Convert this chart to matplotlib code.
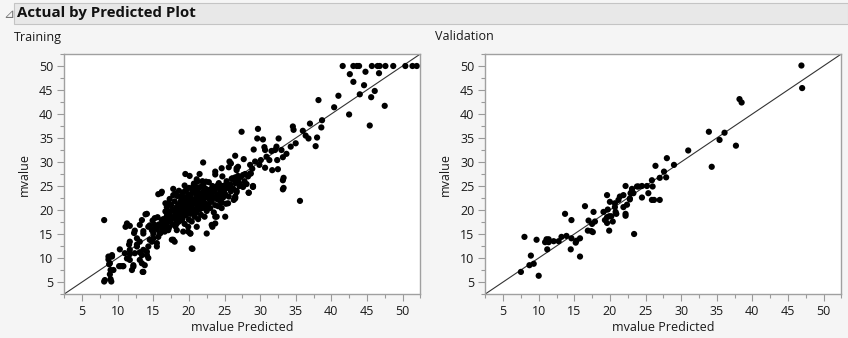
import matplotlib
matplotlib.use("Agg")
import matplotlib.pyplot as plt
from matplotlib.patches import Rectangle
from matplotlib.ticker import MultipleLocator

plt.rcParams['font.family'] = ['Open Sans', 'DejaVu Sans']

# Training rows: (predicted, actual)
train_outer = [
    # top right, capped values at 50
    (41.6, 50.0), (43.1, 50.0), (43.6, 50.0), (43.9, 50.0), (45.7, 50.0), (46.5, 50.0),
    (46.8, 50.0), (47.6, 50.0), (48.7, 50.0), (50.4, 50.0), (51.4, 50.0), (52.0, 50.0),
    (42.6, 48.3), (43.1, 46.7), (44.8, 48.8), (46.7, 48.5), (44.6, 46.0), (46.1, 44.8),
    (44.0, 44.1), (45.6, 43.5), (47.5, 41.7), (42.5, 39.9), (45.4, 37.6), (41.0, 43.8),
    (38.2, 42.9), (40.4, 41.4), (38.7, 38.7), (37.0, 38.0), (38.6, 37.2), (36.0, 36.5),
    (34.6, 37.4), (34.7, 36.7), (36.4, 35.5), (36.8, 34.9), (38.0, 35.1), (37.8, 33.3),
    (35.0, 33.9), (34.3, 33.2), (33.7, 31.7), (33.2, 31.0), (32.6, 34.9), (30.4, 34.7),
    (29.6, 34.9), (29.7, 36.9), (27.4, 36.3), (32.3, 33.2), (32.1, 32.5), (31.6, 32.3),
    (30.7, 32.5), (30.6, 33.1), (29.1, 32.6), (30.9, 31.1), (32.4, 30.4), (33.0, 32.5),
    (31.3, 30.4), (30.1, 30.4), (29.3, 30.1), (28.6, 29.4), (27.7, 30.6), (26.5, 31.3),
    (29.9, 29.4), (30.7, 28.8), (31.7, 28.3), (32.5, 28.5), (28.9, 28.6), (28.7, 27.6),
    (27.9, 27.5), (26.9, 29.0), (26.7, 28.3), (26.9, 27.1), (33.3, 26.7), (29.0, 24.9),
    (33.3, 24.6), (27.1, 25.0), (26.5, 26.1), (26.7, 23.7), (26.5, 22.6), (28.4, 23.6),
    (29.0, 24.8), (33.2, 24.3), (33.2, 26.2), (35.6, 21.9), (22.0, 29.9), (25.7, 30.1),
    (19.5, 27.5), (20.1, 27.1), (21.5, 27.5), (21.1, 26.4), (23.7, 28.0), (23.7, 27.4),
    (24.6, 28.7), (24.7, 27.0), (25.6, 28.9), (25.9, 29.7), (26.7, 28.7), (26.1, 26.6),
    (26.5, 26.8), (20.9, 24.9), (21.8, 24.9), (24.1, 25.2), (25.1, 25.2), (27.6, 27.3),
    (28.6, 27.6), (16.2, 23.8), (15.7, 23.3), (17.8, 23.1), (20.6, 24.9), (21.3, 24.4),
    (23.9, 24.9), (25.5, 25.2), (27.2, 25.2), (17.2, 21.4), (26.5, 22.4), (23.9, 18.6),
    (22.5, 15.1), (23.3, 16.5), (20.2, 15.1), (19.2, 15.5), (20.4, 12.0), (15.2, 18.3),
    (18.0, 13.4), (17.6, 13.8),
    # lower left
    (8.1, 17.9), (11.3, 17.2), (11.7, 16.7), (14.1, 19.2), (13.4, 17.9), (13.1, 16.9),
    (12.4, 15.7), (13.6, 15.1), (10.3, 11.8), (9.2, 10.6), (8.7, 9.7), (8.9, 8.9),
    (9.0, 7.5), (8.2, 5.4), (9.0, 5.6), (8.9, 6.6), (10.7, 8.3), (10.4, 8.3),
    (11.7, 9.6), (12.0, 7.5), (12.2, 8.2), (13.4, 8.9), (13.6, 7.1), (11.7, 11.7),
    (11.0, 11.0), (12.7, 12.4), (13.4, 10.6), (13.6, 11.7), (14.5, 13.8), (15.0, 14.1),
    (15.5, 13.1), (15.9, 15.1), (16.6, 15.5), (16.9, 16.2), (17.8, 13.8), (18.1, 17.1),
    (16.4, 16.9), (16.2, 17.9), (17.1, 19.6), (17.1, 21.4), (18.5, 19.3), (19.0, 17.9),
    (19.9, 15.5), (19.9, 16.5), (14.1, 10.6), (14.3, 10.0), (8.7, 10.3), (9.2, 10.3),
    (8.8, 8.7), (9.4, 7.5), (8.1, 5.1), (9.1, 5.1), (10.2, 8.3), (10.8, 8.3),
    (11.3, 9.9), (11.7, 10.8), (11.7, 13.4), (11.6, 12.8), (11.1, 16.5), (12.2, 8.5),
    (12.3, 15.2), (12.7, 14.1), (13.1, 13.4), (12.7, 12.8), (12.4, 11.0), (13.1, 11.2),
    (13.1, 9.6), (13.8, 8.5), (13.5, 7.1), (13.9, 19.1), (13.6, 15.6), (14.3, 16.5),
    (14.3, 12.4), (14.1, 11.3), (14.8, 13.4), (15.0, 15.1), (15.2, 16.2), (15.7, 14.4),
    (15.5, 12.4), (16.1, 23.5), (16.7, 21.4), (16.9, 17.2), (16.4, 15.8), (17.1, 15.8),
    (18.3, 15.8), (18.3, 17.2), (18.5, 18.6), (19.5, 19.3), (20.2, 15.1), (20.5, 11.9),
    (21.1, 16.5), (23.2, 16.9), (23.7, 18.6), (23.7, 17.2), (24.6, 20.4), (25.1, 18.6),
    (25.5, 21.4), (26.5, 22.8), (25.3, 25.2), (24.6, 23.5), (21.8, 23.5), (28.4, 23.6),
    (29.0, 25.0),
]

# Dense middle of the training cloud
train_core = [
    (15.5, 16.0), (15.8, 17.0), (16.0, 15.2), (16.2, 16.4), (16.4, 18.1), (16.6, 17.0),
    (16.8, 15.9), (16.9, 18.8), (17.0, 17.5), (17.2, 16.3), (17.3, 19.0), (17.5, 18.0),
    (17.6, 20.0), (17.7, 17.0), (17.9, 18.6), (18.0, 19.6), (18.1, 16.6), (18.2, 20.5),
    (18.3, 18.0), (18.4, 19.0), (18.5, 21.2), (18.6, 17.6), (18.7, 20.0), (18.8, 18.7),
    (18.9, 22.0), (19.0, 19.4), (19.0, 20.7), (19.1, 18.2), (19.2, 21.5), (19.3, 19.9),
    (19.4, 17.1), (19.5, 20.3), (19.5, 22.6), (19.6, 18.9), (19.7, 21.0), (19.8, 19.6),
    (19.9, 23.3), (20.0, 20.4), (20.0, 18.0), (20.1, 21.8), (20.2, 19.2), (20.3, 22.5),
    (20.3, 20.9), (20.4, 17.6), (20.5, 23.8), (20.5, 19.8), (20.6, 21.3), (20.7, 22.1),
    (20.8, 20.0), (20.8, 18.6), (20.9, 24.3), (21.0, 21.6), (21.0, 19.4), (21.1, 22.8),
    (21.2, 20.6), (21.3, 23.5), (21.3, 18.1), (21.4, 21.9), (21.5, 20.1), (21.5, 24.7),
    (21.6, 22.4), (21.7, 19.0), (21.8, 23.1), (21.8, 21.2), (21.9, 20.4), (22.0, 22.0),
    (22.0, 25.3), (22.1, 23.9), (22.2, 18.6), (22.2, 21.5), (22.3, 24.5), (22.4, 20.7),
    (22.5, 22.7), (22.5, 19.8), (22.6, 23.4), (22.7, 21.2), (22.8, 25.8), (22.9, 22.2),
    (23.0, 24.0), (23.0, 20.4), (23.1, 23.0), (23.2, 21.7), (23.3, 25.0), (23.4, 22.6),
    (23.5, 19.5), (23.6, 23.8), (23.7, 21.0), (23.8, 24.6), (23.9, 22.3), (24.0, 23.2),
    (24.1, 20.8), (24.2, 25.6), (24.3, 22.0), (24.4, 24.0), (24.5, 23.0), (24.6, 21.6),
    (24.7, 25.0), (24.8, 22.6), (25.0, 24.2), (25.1, 23.3), (25.2, 21.3), (25.3, 26.0),
    (25.5, 24.6), (25.6, 22.8), (25.8, 25.3), (25.9, 23.9), (26.0, 26.5), (26.2, 24.5),
    (26.3, 22.1), (26.5, 25.6), (26.7, 24.0), (26.9, 26.3), (27.1, 25.5), (27.3, 26.9),
    (27.6, 24.8), (27.8, 26.0), (28.1, 25.4), (28.3, 27.0), (18.0, 21.8), (19.2, 23.7),
    (17.5, 21.0), (16.7, 19.7), (15.6, 18.5), (15.2, 16.9), (14.8, 15.8), (14.5, 16.8),
    (14.9, 17.8), (19.6, 24.2), (20.7, 25.5), (21.9, 26.0), (18.4, 22.9), (17.3, 22.3),
    (18.6, 24.0), (19.4, 25.1), (17.8, 24.4), (18.1, 23.4), (19.0, 23.0), (20.2, 23.1),
    (20.0, 24.6), (21.0, 23.2), (21.2, 25.9), (22.4, 25.9), (22.9, 24.2), (16.9, 20.6),
    (17.2, 18.1), (18.8, 21.3), (19.7, 22.1), (20.6, 20.2), (21.6, 21.0), (22.1, 22.8),
    (23.3, 23.6), (24.4, 24.9),
]

# Validation rows: (predicted, actual)
valid_pts = [
    (46.9, 50.1), (47.0, 45.4), (38.2, 43.1), (38.5, 42.4), (33.9, 36.3), (36.1, 36.1),
    (35.4, 34.6), (37.7, 33.4), (34.3, 29.0), (31.0, 32.4), (28.0, 30.8), (26.4, 29.2),
    (29.0, 29.4), (27.6, 28.0), (27.9, 26.8), (27.0, 26.7), (25.9, 26.2), (23.1, 24.4),
    (23.8, 24.9), (24.5, 25.0), (25.2, 25.0), (26.0, 24.9), (22.8, 22.2), (23.3, 23.5),
    (24.5, 22.6), (25.4, 23.5), (25.9, 22.1), (26.2, 22.1), (27.0, 22.1), (23.4, 15.0),
    (7.5, 7.1), (8.0, 14.4), (8.7, 8.5), (8.9, 10.5), (9.3, 8.8), (9.7, 13.8),
    (10.0, 6.3), (10.9, 13.3), (11.1, 13.9), (11.4, 13.9), (11.2, 11.8), (11.4, 13.3),
    (12.1, 13.5), (12.8, 13.5), (13.2, 14.4), (13.7, 19.2), (13.9, 14.6), (14.6, 14.1),
    (14.6, 17.9), (14.5, 11.8), (15.2, 13.2), (15.3, 13.6), (15.8, 14.1), (15.8, 10.3),
    (16.5, 20.8), (16.9, 15.7), (17.0, 17.8), (17.4, 15.6), (17.5, 17.1), (17.7, 19.6),
    (17.6, 15.4), (17.9, 17.6), (19.1, 19.6), (19.6, 18.5), (19.3, 17.9), (19.6, 23.1),
    (19.7, 20.1), (20.0, 21.7), (19.6, 17.3), (19.9, 15.7), (19.9, 18.7), (20.2, 18.7),
    (20.4, 17.6), (20.7, 21.4), (20.7, 20.6), (20.8, 19.6), (20.9, 19.2), (21.2, 22.1),
    (21.4, 22.8), (21.9, 23.1), (21.9, 20.6), (22.2, 19.2), (22.2, 18.8), (22.4, 21.1),
    (22.2, 25.0), (22.8, 22.4), (23.1, 24.0), (22.9, 23.5), (24.0, 24.9),
]

train_pts = train_outer + train_core
axis_lo, axis_hi = 2.5, 52.5
ticks = [5, 10, 15, 20, 25, 30, 35, 40, 45, 50]

W, H = 848, 338
fig = plt.figure(figsize=(W / 100, H / 100), dpi=100)
fig.patch.set_facecolor('#f5f5f5')

# outline header band
fig.patches.append(Rectangle((14 / W, 1 - 24 / H), (W - 14) / W, 21 / H,
                             transform=fig.transFigure, facecolor='#e8e8e8',
                             edgecolor='#c4c4c4', linewidth=0.8))
fig.text(3 / W, 1 - 14 / H, '\u22bf', fontsize=9.5, color='#777777',
         va='center', ha='left', family=['DejaVu Sans'])
fig.text(17 / W, 1 - 13.5 / H, 'Actual by Predicted Plot', fontsize=10.8,
         fontweight='bold', va='center', ha='left', color='#111111')


def draw_panel(left_px, pts, label):
    ax = fig.add_axes([left_px / W, (H - 294) / H, 356 / W, 240 / H])
    ax.set_facecolor('white')
    xs = [p[0] for p in pts]
    ys = [p[1] for p in pts]
    ax.plot([axis_lo, axis_hi], [axis_lo, axis_hi], color='#333333', lw=0.8, zorder=1)
    ax.scatter(xs, ys, s=20, color='black', edgecolors='none', zorder=2)
    ax.set_xlim(axis_lo, axis_hi)
    ax.set_ylim(axis_lo, axis_hi)
    ax.set_xticks(ticks)
    ax.set_yticks(ticks)
    ax.xaxis.set_minor_locator(MultipleLocator(2.5))
    ax.yaxis.set_minor_locator(MultipleLocator(2.5))
    ax.tick_params(which='major', length=5, width=0.8, color='#9a9a9a',
                   labelsize=9, labelcolor='#1a1a1a', pad=3)
    ax.tick_params(which='minor', length=3, width=0.8, color='#9a9a9a')
    for sp in ax.spines.values():
        sp.set_color('#a0a0a0')
        sp.set_linewidth(1.0)
    ax.set_xlabel('mvalue Predicted', fontsize=9, color='#1a1a1a', labelpad=2)
    ax.set_ylabel('mvalue', fontsize=9, color='#1a1a1a', labelpad=6)
    fig.text((left_px - 50) / W, 1 - 37 / H, label, fontsize=9,
             va='center', ha='left', color='#1a1a1a')
    return ax


draw_panel(64.3, train_pts, 'Training')
draw_panel(485.3, valid_pts, 'Validation')

fig.savefig('out.png', dpi=100, facecolor=fig.get_facecolor())
